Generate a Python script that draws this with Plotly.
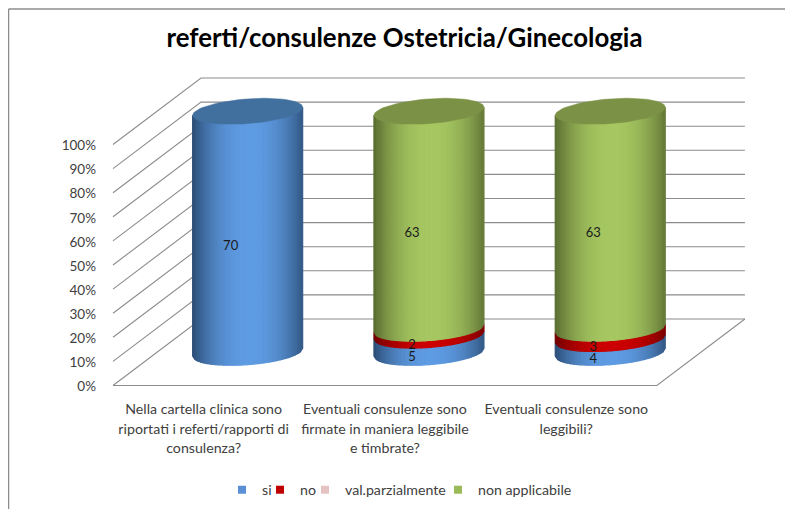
import math
import plotly.graph_objects as go

# ---- data ----
categories = [
    "Nella cartella clinica sono<br>riportati i referti/rapporti di<br>consulenza?",
    "Eventuali consulenze sono<br>firmate in maniera leggibile<br>e timbrate?",
    "Eventuali consulenze sono<br>leggibili?",
]
series_names = ["si", "no", "val.parzialmente", "non applicabile"]
si = [70, 5, 4]
no = [0, 2, 3]
val_parzialmente = [0, 0, 0]
non_applicabile = [0, 63, 63]
series_values = [si, no, val_parzialmente, non_applicabile]
percent_ticks = list(range(0, 101, 10))
tick_labels = [f"{t}%" for t in percent_ticks]

# ---- style ----
legend_colors = ["#5B8FD6", "#C00000", "#E6C3C3", "#9BBB59"]
centre_colors = ["#5E9BE2", "#CC0000", "#E6C3C3", "#A6C761"]
edge_colors = ["#2B4C74", "#6E0000", "#8A7070", "#586A30"]
cap_colors = ["#41709F", "#8E0000", "#A89090", "#7B9145"]
GRID = "#8C8C8C"
TEXT = "#404040"
FONT = "Lato"

# ---- oblique projection (page pixels are converted to axis units) ----
PAGE = 8  # the page's own body margin
W, H = 793 - PAGE, 509 - PAGE
PX_CAT, PX_PCT = 181.3, 2.41
X0_PX, Y0_PX = 113 - PAGE, 385.5 - PAGE
L, R, T, B = 100 - PAGE, 760 - PAGE, 70 - PAGE, 395 - PAGE
KX, KY = 88 / PX_CAT, 66.5 / PX_PCT
RX, UX, UY = 55 / PX_CAT, 17 / PX_CAT, 13 / PX_PCT
THETA = math.atan2(17, 52.3)
N = 44
LEGEND_TEXT_PX = [262, 300, 345, 478]


def px(x):
    return (x - PAGE - L) / (R - L)


def py(y):
    return (B - (y - PAGE)) / (B - T)


def proj(u, z, v):
    return u + z * KX, v + z * KY


def shade(c1, c2, f):
    a = [int(c1[i:i + 2], 16) for i in (1, 3, 5)]
    b = [int(c2[i:i + 2], 16) for i in (1, 3, 5)]
    return "#%02x%02x%02x" % tuple(round(p + (q - p) * f) for p, q in zip(a, b))


def arc(cx, cy, phi):
    return cx + RX * math.cos(phi), cy + UY * math.sin(phi + THETA)


fig = go.Figure()

# floor / walls grid
gx, gy = [], []
for t in percent_ticks:
    for (u, z) in [(0, 0), (0, 1), (3, 1)]:
        x, y = proj(u, z, t)
        gx.append(x); gy.append(y)
    gx.append(None); gy.append(None)
for (u, z) in [(0, 0), (3, 0), (3, 1)]:
    x, y = proj(u, z, 0)
    gx.append(x); gy.append(y)
fig.add_trace(go.Scatter(x=gx, y=gy, mode="lines", line=dict(color=GRID, width=1.1),
                         showlegend=False, hoverinfo="skip", cliponaxis=False))

# cylinders
label_x, label_y, label_t = [], [], []
totals = [sum(s[i] for s in series_values) for i in range(len(categories))]
for si_idx, values in enumerate(series_values):
    strips = [([], []) for _ in range(N)]
    for c, val in enumerate(values):
        if val == 0:
            continue
        start = sum(series_values[k][c] for k in range(si_idx)) / totals[c] * 100
        end = start + val / totals[c] * 100
        cx, base = proj(c + 0.5, 0.5, 0)
        for i in range(N):
            p1 = math.acos(1 - 2 * i / N) + math.pi
            p2 = math.acos(1 - 2 * (i + 1) / N) + math.pi
            x1, y1 = arc(cx, base, p1)
            x2, y2 = arc(cx, base, p2)
            xs, ys = strips[i]
            xs += [x1, x2, x2, x1, x1, None]
            ys += [y1 + start, y2 + start, y2 + end, y1 + end, y1 + start, None]
        lx, ly = cx - UX, base - UY + (start + end) / 2 - 1.5 / PX_PCT
        label_x.append(lx); label_y.append(ly); label_t.append(str(val))
    for i, (xs, ys) in enumerate(strips):
        if not xs:
            continue
        f = (i + 0.5) / N
        d = abs(f - 0.52) / 0.52
        col = shade(centre_colors[si_idx], edge_colors[si_idx], d ** 2.2)
        fig.add_trace(go.Scatter(x=xs, y=ys, mode="lines", fill="toself", fillcolor=col,
                                 line=dict(color=col, width=1.2), showlegend=False,
                                 hoverinfo="skip", cliponaxis=False))
    # top cap for columns whose highest segment is this series
    for c, val in enumerate(values):
        if val == 0 or any(series_values[k][c] for k in range(si_idx + 1, len(series_values))):
            continue
        cx, base = proj(c + 0.5, 0.5, 0)
        xs, ys = [], []
        for j in range(73):
            ph = j * 2 * math.pi / 72
            x, y = arc(cx, base, ph)
            xs.append(x); ys.append(y + 100)
        fig.add_trace(go.Scatter(x=xs, y=ys, mode="lines", fill="toself",
                                 fillcolor=cap_colors[si_idx],
                                 line=dict(color=cap_colors[si_idx], width=0.5),
                                 showlegend=False, hoverinfo="skip", cliponaxis=False))

# data labels
fig.add_trace(go.Scatter(x=label_x, y=label_y, text=label_t, mode="text",
                         textfont=dict(family=FONT, size=13, color="#1a1a1a"),
                         textposition="middle center", showlegend=False,
                         hoverinfo="skip", cliponaxis=False))

# legend entries: one small legend per series so each can sit where the reference has it
legends = {}
for k, (name, col) in enumerate(zip(series_names, legend_colors)):
    key = "legend" if k == 0 else f"legend{k + 1}"
    fig.add_trace(go.Scatter(x=[None], y=[None], mode="markers", name=name, legend=key,
                             marker=dict(symbol="square", size=8, color=col)))
    legends[key] = dict(orientation="h", x=px(LEGEND_TEXT_PX[k] - 40), xanchor="left",
                        y=py(490), yanchor="middle",
                        font=dict(family=FONT, size=14.2, color=TEXT),
                        bgcolor="rgba(0,0,0,0)", itemclick=False, itemdoubleclick=False)

fig.update_layout(
    width=W, height=H,
    margin=dict(l=L, r=W - R, t=T, b=H - B, pad=0, autoexpand=False),
    paper_bgcolor="white", plot_bgcolor="white",
    title=dict(text="<b>referti/consulenze Ostetricia/Ginecologia</b>",
               x=(404.5 - PAGE) / W, xanchor="center", y=1 - (38 - PAGE) / H, yanchor="middle",
               font=dict(family=FONT, size=25.8, color="#000000")),
    font=dict(family=FONT, color=TEXT),
    xaxis=dict(range=[(L - X0_PX) / PX_CAT, (R - X0_PX) / PX_CAT], showgrid=False,
               zeroline=False, showline=False, ticks="", tickangle=0,
               ticklabelstandoff=3,
               tickvals=[i + 0.5 for i in range(len(categories))],
               ticktext=[f'<span style="font-size:14.2px">{c}</span>' for c in categories],
               tickfont=dict(family=FONT, size=15, color=TEXT)),
    yaxis=dict(range=[(Y0_PX - B) / PX_PCT, (Y0_PX - T) / PX_PCT], showgrid=False,
               zeroline=False, showline=False, ticks="",
               ticklabelstandoff=3, ticklabelshift=1,
               tickvals=percent_ticks, ticktext=tick_labels,
               tickfont=dict(family=FONT, size=13.5, color=TEXT)),
    shapes=[
        dict(type="line", xref="paper", yref="paper", x0=px(8.5), x1=px(793), y0=py(9), y1=py(9),
             line=dict(color="#8C8C8C", width=1.5)),
        dict(type="line", xref="paper", yref="paper", x0=px(8.5), x1=px(8.5), y0=py(9), y1=py(509),
             line=dict(color="#8C8C8C", width=1.5)),
    ],
    **legends,
)

fig.write_html("out.html")
